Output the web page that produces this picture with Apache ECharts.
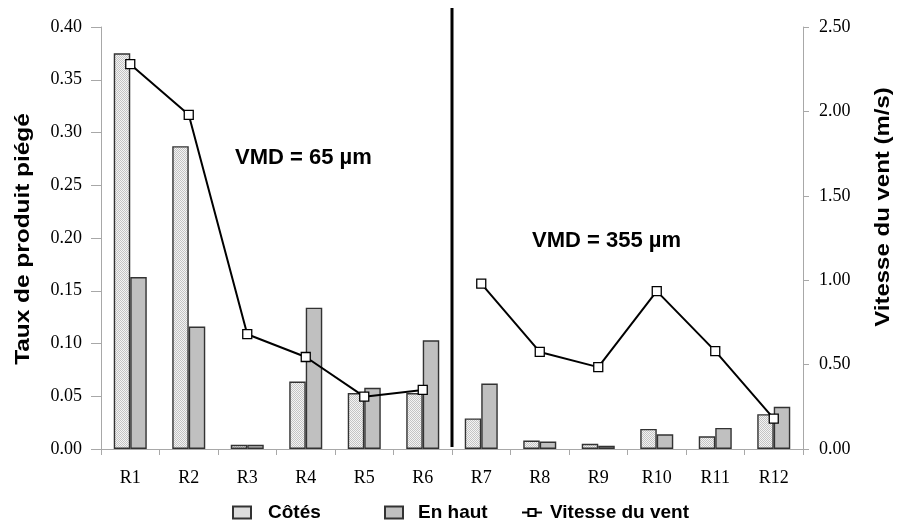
<!DOCTYPE html>
<html>
<head>
<meta charset="utf-8">
<script src="https://cdn.jsdelivr.net/npm/echarts@6/dist/echarts.min.js"></script>
<style>html,body{margin:0;padding:0;background:#fff}#c{width:897px;height:525px}</style>
</head>
<body>
<div id="c"></div>
<script>
const categories = ['R1','R2','R3','R4','R5','R6','R7','R8','R9','R10','R11','R12'];
const cotes   = [0.375, 0.287, 0.004, 0.064, 0.053, 0.053, 0.029, 0.008, 0.005, 0.019, 0.012, 0.033];
const enHaut  = [0.163, 0.116, 0.004, 0.134, 0.058, 0.103, 0.062, 0.007, 0.003, 0.014, 0.020, 0.040];
const vitesse = [2.28, 1.98, 0.68, 0.545, 0.31, 0.35, 0.98, 0.575, 0.485, 0.935, 0.58, 0.18];
const groupSplit = 6; // R1–R6: VMD 65 µm, R7–R12: VMD 355 µm
const leftTicks = [0, 0.05, 0.10, 0.15, 0.20, 0.25, 0.30, 0.35, 0.40];
const rightTicks = [0, 0.5, 1.0, 1.5, 2.0, 2.5];
const annotations = ['VMD = 65 µm', 'VMD = 355 µm'];

const vitesseA = vitesse.map((v, i) => i < groupSplit ? v : '-');
const vitesseB = vitesse.map((v, i) => i >= groupSplit ? v : '-');

function makePattern(){
  const c = document.createElement('canvas');
  c.width = 2; c.height = 2;
  const ctx = c.getContext('2d');
  ctx.fillStyle = '#f4f4f4'; ctx.fillRect(0,0,2,2);
  ctx.fillStyle = '#c4c4c4'; ctx.fillRect(0,0,1,1); ctx.fillRect(1,1,1,1);
  return c;
}
const pattern = {image: makePattern(), repeat: 'repeat'};

const serif = 'Liberation Serif';
const sans = 'Liberation Sans';

const lineSeries = (data) => ({
  name: 'Vitesse du vent', type: 'line', yAxisIndex: 1, data: data,
  symbol: 'rect', symbolSize: 9, showSymbol: true,
  lineStyle: {color: '#000', width: 2},
  itemStyle: {color: '#fff', borderColor: '#000', borderWidth: 1.3},
  z: 5
});

const chart = echarts.init(document.getElementById('c'), null, {renderer: 'canvas'});
const option = {
  animation: false,
  grid: {left: 101, right: 94, top: 27, bottom: 76},
  xAxis: {
    type: 'category',
    data: categories,
    boundaryGap: true,
    axisLine: {lineStyle: {color: '#a8a8a8', width: 1}},
    axisTick: {show: true, length: 6, lineStyle: {color: '#a8a8a8'}},
    axisLabel: {fontFamily: serif, fontSize: 18, color: '#000', margin: 20}
  },
  yAxis: [{
    type: 'value', min: leftTicks[0], max: leftTicks[leftTicks.length-1], interval: 0.05,
    splitLine: {show: false},
    axisLine: {show: true, lineStyle: {color: '#a8a8a8'}},
    axisTick: {show: true, length: 10, lineStyle: {color: '#a8a8a8'}},
    axisLabel: {fontFamily: serif, fontSize: 18, color: '#000', margin: 19, formatter: v => v.toFixed(2)}
  }, {
    type: 'value', min: rightTicks[0], max: rightTicks[rightTicks.length-1], interval: 0.5,
    position: 'right',
    splitLine: {show: false},
    axisLine: {show: true, lineStyle: {color: '#a8a8a8'}},
    axisTick: {show: true, length: 6, lineStyle: {color: '#a8a8a8'}},
    axisLabel: {fontFamily: serif, fontSize: 18, color: '#000', margin: 16, formatter: v => v.toFixed(2)}
  }],
  legend: [{
    left: 232, top: 503, padding: 0, data: [{name: 'Côtés', icon: 'rect'}], itemWidth: 18, itemHeight: 12,
    textStyle: {fontFamily: sans, fontWeight: 'bold', fontSize: 19, color: '#000', padding: [0,0,0,12]}
  }, {
    left: 384, top: 503, padding: 0, data: [{name: 'En haut', icon: 'rect'}], itemWidth: 18, itemHeight: 12,
    textStyle: {fontFamily: sans, fontWeight: 'bold', fontSize: 19, color: '#000', padding: [0,0,0,10]}
  }, {
    left: 521, top: 503, padding: 0, data: ['Vitesse du vent'], itemWidth: 20, itemHeight: 9,
    textStyle: {fontFamily: sans, fontWeight: 'bold', fontSize: 19, color: '#000', padding: [0,0,0,3]}
  }],
  series: [{
    name: 'Côtés', type: 'bar', data: cotes, barWidth: 16.5, barGap: '0%',
    itemStyle: {color: pattern, borderColor: '#333', borderWidth: 1.4}
  }, {
    name: 'En haut', type: 'bar', data: enHaut, barWidth: 16.5, barGap: '0%',
    itemStyle: {color: '#c0c0c0', borderColor: '#333', borderWidth: 1.4}
  }, lineSeries(vitesseA), lineSeries(vitesseB)]
};
chart.setOption(option);

const bandStart = chart.convertToPixel({xAxisIndex: 0}, categories[groupSplit - 1]);
const bandNext = chart.convertToPixel({xAxisIndex: 0}, categories[groupSplit]);
const divX = (bandStart + bandNext) / 2;
const y0 = chart.convertToPixel({yAxisIndex: 0}, 0);

chart.setOption({
  graphic: [
    {type: 'line', shape: {x1: divX, y1: 8, x2: divX, y2: y0 - 2}, style: {stroke: '#000', lineWidth: 3}, z: 10},
    {type: 'text', left: 235, top: 147, style: {text: annotations[0], font: 'bold 22px "Liberation Sans"', fill: '#000'}},
    {type: 'text', left: 532, top: 230, style: {text: annotations[1], font: 'bold 22px "Liberation Sans"', fill: '#000'}},
    {type: 'text', x: 23, y: 239, rotation: Math.PI/2, scaleX: 1.22, style: {text: 'Taux de produit piégé', font: 'bold 20px "Liberation Sans"', fill: '#000', align: 'center', verticalAlign: 'middle'}},
    {type: 'text', x: 883, y: 207, rotation: Math.PI/2, scaleX: 1.2, style: {text: 'Vitesse du vent (m/s)', font: 'bold 20px "Liberation Sans"', fill: '#000', align: 'center', verticalAlign: 'middle'}}
  ]
});
</script>
</body>
</html>
